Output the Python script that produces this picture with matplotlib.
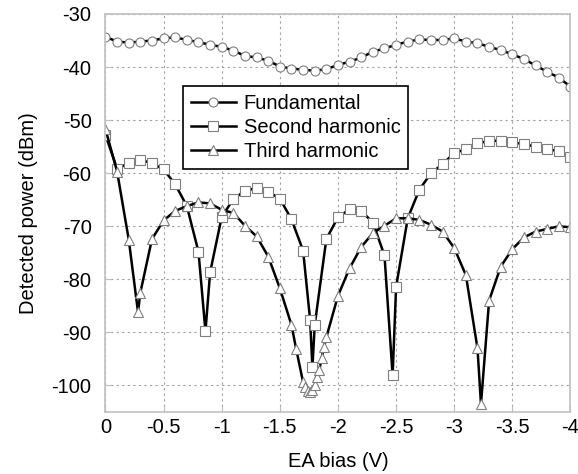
import matplotlib
matplotlib.use("Agg")
import matplotlib.pyplot as plt

plt.rcParams['font.family'] = ['Liberation Sans', 'DejaVu Sans']
plt.rcParams['axes.unicode_minus'] = False

# Fundamental, 0 to -4 V in 0.1 V steps
bias_fund = [-i / 10 for i in range(41)]
fund = [-34.3, -35.2, -35.4, -35.2, -35.0, -34.6, -34.4, -34.9, -35.3, -35.8,
        -36.2, -36.9, -37.9, -38.2, -38.8, -39.9, -40.3, -40.5, -40.7, -40.4,
        -39.6, -39.0, -38.2, -37.1, -36.5, -35.8, -35.2, -34.8, -34.9, -34.9,
        -34.6, -35.2, -35.5, -36.2, -36.8, -37.6, -38.5, -39.7, -40.9, -42.0,
        -43.7]

bias_sec = [0, -0.1, -0.2, -0.3, -0.4, -0.5, -0.6, -0.7, -0.8, -0.86, -0.9,
            -1.0, -1.1, -1.2, -1.3, -1.4, -1.5, -1.6, -1.7, -1.76, -1.78, -1.8,
            -1.9, -2.0, -2.1, -2.2, -2.3, -2.4, -2.47, -2.5, -2.6, -2.7, -2.8,
            -2.9, -3.0, -3.1, -3.2, -3.3, -3.4, -3.5, -3.6, -3.7, -3.8, -3.9, -4.0]
second = [-52.8, -59.2, -58.1, -57.5, -58.1, -59.3, -62.1, -66.2, -74.8, -89.8, -78.7,
          -68.2, -64.9, -63.3, -62.8, -63.5, -64.8, -68.7, -74.6, -87.6, -96.6, -88.6,
          -72.4, -68.3, -66.8, -67.1, -69.3, -75.5, -98.1, -81.4, -68.5, -63.1, -60.0,
          -58.3, -56.2, -55.5, -54.4, -53.9, -53.9, -54.2, -54.5, -55.0, -55.4, -55.9, -57.0]

bias_third = [0, -0.1, -0.2, -0.28, -0.3, -0.4, -0.5, -0.6, -0.7, -0.8, -0.9, -1.0,
              -1.1, -1.2, -1.3, -1.4, -1.5, -1.6, -1.64, -1.7, -1.72, -1.74, -1.76,
              -1.78, -1.8, -1.82, -1.84, -1.86, -1.88, -1.9, -2.0, -2.1, -2.2, -2.3,
              -2.4, -2.5, -2.6, -2.7, -2.8, -2.9, -3.0, -3.1, -3.2, -3.23, -3.3, -3.4,
              -3.5, -3.6, -3.7, -3.8, -3.9, -4.0]
third = [-51.7, -59.7, -72.5, -86.2, -82.5, -72.4, -68.9, -67.1, -66.2, -65.5, -65.7, -66.9,
         -67.5, -69.9, -71.9, -75.7, -81.7, -88.6, -93.1, -99.4, -100.2, -101.1, -101.3,
         -100.9, -100.0, -98.4, -97.0, -94.8, -92.7, -90.9, -83.1, -77.9, -73.9, -71.3,
         -69.9, -68.5, -68.5, -68.8, -69.7, -71.0, -74.1, -79.2, -93.0, -103.5, -84.0, -77.6,
         -74.3, -72.1, -71.0, -70.5, -70.0, -70.2]

fig = plt.figure(figsize=(5.78, 4.74), dpi=100)
ax = fig.add_axes([0.1825, 0.1308, 0.8045, 0.8397])

mk = dict(color='black', lw=1.8, markersize=6.5, markerfacecolor='white',
          markeredgecolor='#7f7f7f', markeredgewidth=0.8)
ax.plot(bias_fund, fund, marker='o', label='Fundamental', **mk)
ax.plot(bias_sec, second, marker='s', label='Second harmonic', **mk)
ax.plot(bias_third, third, marker='^', label='Third harmonic', **mk)

ax.set_xlim(0, -4)
ax.set_ylim(-105, -30)
ax.set_xticks([0, -0.5, -1, -1.5, -2, -2.5, -3, -3.5, -4])
ax.set_xticklabels(['0', '-0.5', '-1', '-1.5', '-2', '-2.5', '-3', '-3.5', '-4'])
ax.set_yticks(range(-100, -29, 10))

ax.grid(True, color='#a0a0a0', ls=(0, (2, 3)), lw=0.8)
for s in ax.spines.values():
    s.set_color('#c0c0c0')
    s.set_linewidth(1.2)
ax.tick_params(direction='in', length=4, color='#c0c0c0', labelsize=14.5)
ax.tick_params(axis='x', pad=4)
ax.tick_params(axis='y', pad=10)

ax.set_xlabel('EA bias (V)', fontsize=14.5, labelpad=11)
ax.set_ylabel('Detected power (dBm)', fontsize=14.5, labelpad=10)

leg = ax.legend(loc='upper left', bbox_to_anchor=(0.167, 0.82), fontsize=14.5,
                frameon=True, fancybox=False, edgecolor='black', framealpha=1,
                handlelength=2.2, handletextpad=0.4, borderpad=0.4, labelspacing=0.25,
                borderaxespad=0)
leg.get_frame().set_linewidth(1.2)

fig.savefig('out.png', dpi=100)
